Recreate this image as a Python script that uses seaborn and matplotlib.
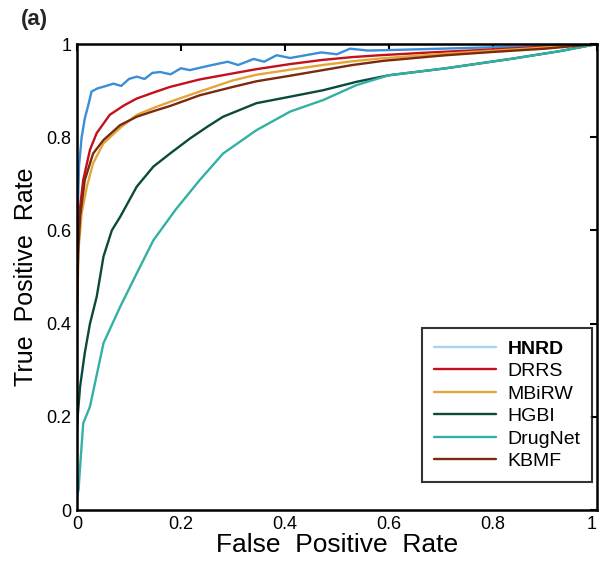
import pandas as pd
import matplotlib
matplotlib.use("Agg")
import matplotlib.pyplot as plt
import seaborn as sns

# ROC points
hnrd_fpr = [0, 0.002, 0.004, 0.009, 0.015, 0.022, 0.028, 0.04, 0.05, 0.07, 0.085, 0.1, 0.115, 0.13, 0.145, 0.16, 0.18, 0.2, 0.217,
            0.24, 0.26, 0.29, 0.31, 0.34, 0.36, 0.384, 0.41, 0.44, 0.47, 0.5, 0.525, 0.56, 0.6, 0.7, 0.8, 0.9, 0.98, 1.0]
hnrd_tpr = [0.5, 0.66, 0.74, 0.80, 0.84, 0.87, 0.898, 0.905, 0.908, 0.915, 0.91, 0.925, 0.93, 0.925, 0.938, 0.94, 0.935, 0.948, 0.944,
            0.95, 0.955, 0.962, 0.955, 0.968, 0.962, 0.976, 0.97, 0.976, 0.982, 0.978, 0.99, 0.986, 0.987, 0.99, 0.993, 0.995, 0.997, 1.0]

drrs_fpr = [0, 0.003, 0.006, 0.012, 0.025, 0.038, 0.063, 0.09, 0.115, 0.15, 0.179, 0.236, 0.3, 0.345, 0.41, 0.473, 0.53, 0.583, 0.68, 0.775, 0.88, 1.0]
drrs_tpr = [0.45, 0.58, 0.65, 0.708, 0.773, 0.809, 0.848, 0.868, 0.883, 0.897, 0.908, 0.924, 0.937, 0.946, 0.957, 0.966, 0.972, 0.976, 0.982, 0.987, 0.993, 1.0]

mbirw_fpr = [0, 0.001, 0.003, 0.009, 0.019, 0.031, 0.051, 0.083, 0.115, 0.15, 0.179, 0.236, 0.3, 0.345, 0.41, 0.473, 0.53, 0.583, 0.68, 0.775, 0.88, 1.0]
mbirw_tpr = [0.35, 0.45, 0.56, 0.637, 0.694, 0.744, 0.787, 0.82, 0.848, 0.864, 0.876, 0.898, 0.922, 0.934, 0.945, 0.955, 0.963, 0.969, 0.977, 0.984, 0.991, 1.0]

hgbi_fpr = [0, 0.002, 0.006, 0.015, 0.025, 0.038, 0.051, 0.067, 0.083, 0.115, 0.147, 0.179, 0.217, 0.25, 0.281, 0.345, 0.41, 0.474, 0.538, 0.6, 0.71, 0.84, 0.93, 1.0]
hgbi_tpr = [0.17, 0.21, 0.265, 0.337, 0.40, 0.458, 0.544, 0.60, 0.629, 0.694, 0.737, 0.765, 0.797, 0.822, 0.844, 0.873, 0.887, 0.901, 0.919, 0.933, 0.948, 0.969, 0.985, 1.0]

drugnet_fpr = [0, 0.003, 0.006, 0.012, 0.025, 0.051, 0.083, 0.115, 0.147, 0.19, 0.236, 0.281, 0.345, 0.41, 0.474, 0.538, 0.6, 0.71, 0.84, 0.93, 1.0]
drugnet_tpr = [0.03, 0.043, 0.093, 0.186, 0.222, 0.358, 0.436, 0.508, 0.579, 0.645, 0.708, 0.765, 0.815, 0.855, 0.88, 0.912, 0.933, 0.948, 0.969, 0.985, 1.0]

kbmf_fpr = [0, 0.002, 0.006, 0.015, 0.031, 0.051, 0.083, 0.115, 0.15, 0.179, 0.236, 0.3, 0.345, 0.41, 0.473, 0.53, 0.59, 0.71, 0.8, 0.9, 1.0]
kbmf_tpr = [0.42, 0.55, 0.63, 0.708, 0.765, 0.794, 0.826, 0.844, 0.857, 0.867, 0.89, 0.908, 0.92, 0.932, 0.944, 0.955, 0.964, 0.976, 0.983, 0.99, 1.0]

methods = ["HNRD", "DRRS", "MBiRW", "HGBI", "DrugNet", "KBMF"]
colors = ["#3a8ed8", "#c4101c", "#e3a63a", "#0b4a3a", "#33b0a4", "#7a2a0e"]

fprs = [hnrd_fpr, drrs_fpr, mbirw_fpr, hgbi_fpr, drugnet_fpr, kbmf_fpr]
tprs = [hnrd_tpr, drrs_tpr, mbirw_tpr, hgbi_tpr, drugnet_tpr, kbmf_tpr]

rows = []
for m, fx, ty in zip(methods, fprs, tprs):
    for i in range(len(fx)):
        rows.append({"Method": m, "FPR": fx[i], "TPR": ty[i]})
df = pd.DataFrame(rows)

sns.set_style("white")
plt.rcParams["font.family"] = ["Liberation Sans", "DejaVu Sans"]

fig = plt.figure(figsize=(5.99, 5.63), dpi=100)
ax = fig.add_axes([0.1285, 0.0941, 0.868, 0.8277])

sns.lineplot(data=df, x="FPR", y="TPR", hue="Method", hue_order=methods,
             palette=colors, sort=False, estimator=None, units="Method",
             linewidth=1.7, ax=ax)

ax.set_xlim(0, 1)
ax.set_ylim(0, 1)
ax.set_xticks([0, 0.2, 0.4, 0.6, 0.8, 1])
ax.set_yticks([0, 0.2, 0.4, 0.6, 0.8, 1])
ax.set_xticklabels(["0", "0.2", "0.4", "0.6", "0.8", "1"])
ax.set_yticklabels(["0", "0.2", "0.4", "0.6", "0.8", "1"])
ax.get_xticklabels()[-1].set_horizontalalignment("right")
ax.tick_params(direction="in", length=5, width=1.5, top=True, right=True,
               labelsize=13, colors="black", pad=4)
for s in ax.spines.values():
    s.set_visible(True)
    s.set_color("black")
    s.set_linewidth(1.8)

ax.set_xlabel("False  Positive  Rate", fontsize=19, labelpad=0, color="black")
ax.set_ylabel("True  Positive  Rate", fontsize=18, labelpad=6, color="black")

leg = ax.legend(loc="lower right", bbox_to_anchor=(1.01, 0.04), fontsize=14,
                frameon=True, fancybox=False, edgecolor="black",
                handlelength=3.2, labelspacing=0.25, borderpad=0.6, handletextpad=0.6)
leg.get_frame().set_linewidth(1.5)
leg.get_lines()[0].set_color("#a8d4f0")
leg.get_texts()[0].set_fontweight("bold")
for t in leg.get_texts():
    t.set_color("black")

fig.text(0.035, 0.955, "(a)", fontsize=16, fontweight="bold")

fig.savefig("out.png", dpi=100)
